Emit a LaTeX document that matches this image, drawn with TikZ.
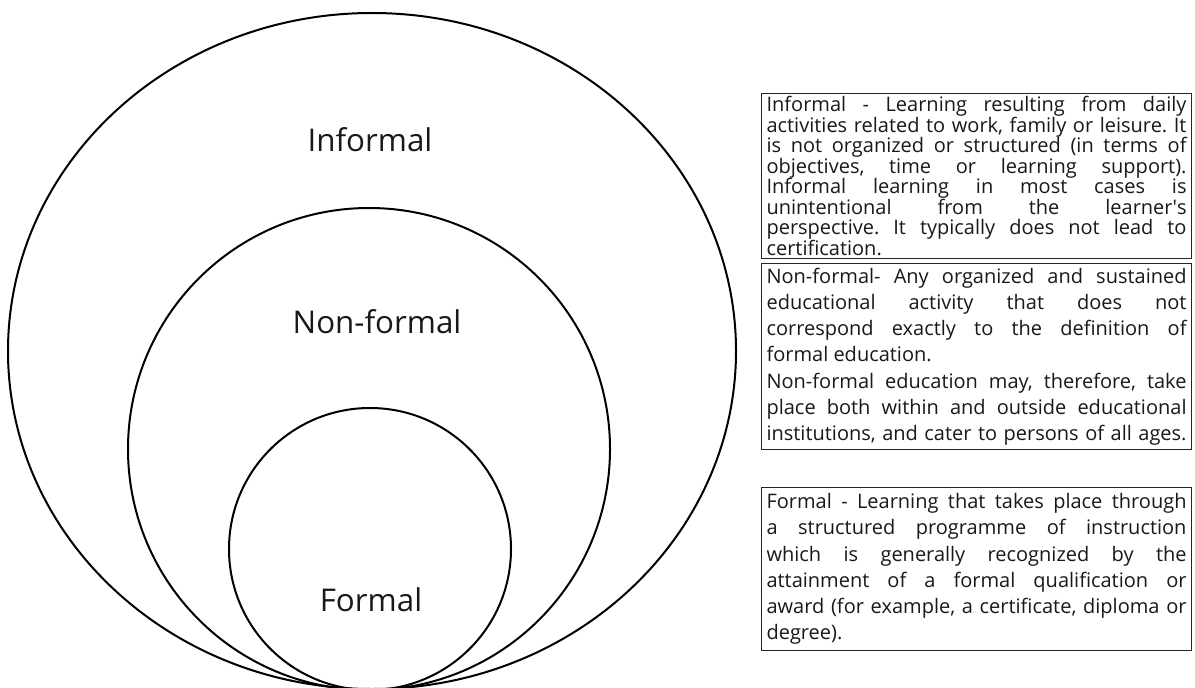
\documentclass[tikz,border=0pt]{standalone}
\usepackage{fontspec}
\setmainfont{Open Sans}
\frenchspacing
\begin{document}
\begin{tikzpicture}[x=0.75pt,y=-0.75pt,
  ring/.style={draw=black, line width=1.5pt},
  lab/.style={font=\fontsize{23.5}{27}\selectfont, text=black!90},
  descbox/.style={draw=black!85, line width=0.8pt, anchor=north west, text width=315pt,
    align=justify, inner xsep=3.75pt, text=black!90, fill=white},
  tightbox/.style={descbox, inner ysep=2pt, font=\fontsize{15}{15.4}\selectfont},
  loosebox/.style={descbox, inner ysep=4.5pt, font=\fontsize{15}{19.6}\selectfont}
]
\useasboundingbox (0,0) rectangle (1195,688);
\draw[ring] (372,351) ellipse [x radius=273pt, y radius=253.5pt];
\draw[ring] (369,449) circle [radius=180.75pt];
\draw[ring] (370,549) circle [radius=105.75pt];
\node[lab] (inf) at (370,140) {Informal};
\node[lab] (nonf) at (377,322) {Non-formal};
\node[lab] (form) at (371,600) {Formal};
\node[tightbox] (b1) at (761,93) {\hyphenpenalty=10000\tolerance=10000
Informal - Learning resulting from daily\linebreak activities related to work, family or leisure. It\linebreak is not organized or structured (in terms of\linebreak objectives, time or learning support).\linebreak Informal learning in most cases is\linebreak unintentional from the learner\textquotesingle s\linebreak perspective. It typically does not lead to\linebreak certification.};
\node[loosebox, inner ysep=3.5pt] (b2) at (761,263) {\hyphenpenalty=10000\tolerance=10000
Non-formal- Any organized and sustained\linebreak educational activity that does not\linebreak correspond exactly to the definition of\linebreak formal education.\par
Non-formal education may, therefore, take\linebreak place both within and outside educational\linebreak {\spaceskip=0.18em plus 0.05em minus 0.05em institutions, and cater to persons of all ages.{\parfillskip=0pt\par}}};
\node[loosebox] (b3) at (761,487) {\hyphenpenalty=10000\tolerance=10000
Formal - Learning that takes place through\linebreak a structured programme of instruction\linebreak which is generally recognized by the\linebreak attainment of a formal qualification or\linebreak award (for example, a certificate, diploma or\linebreak degree).};
\end{tikzpicture}
\end{document}
